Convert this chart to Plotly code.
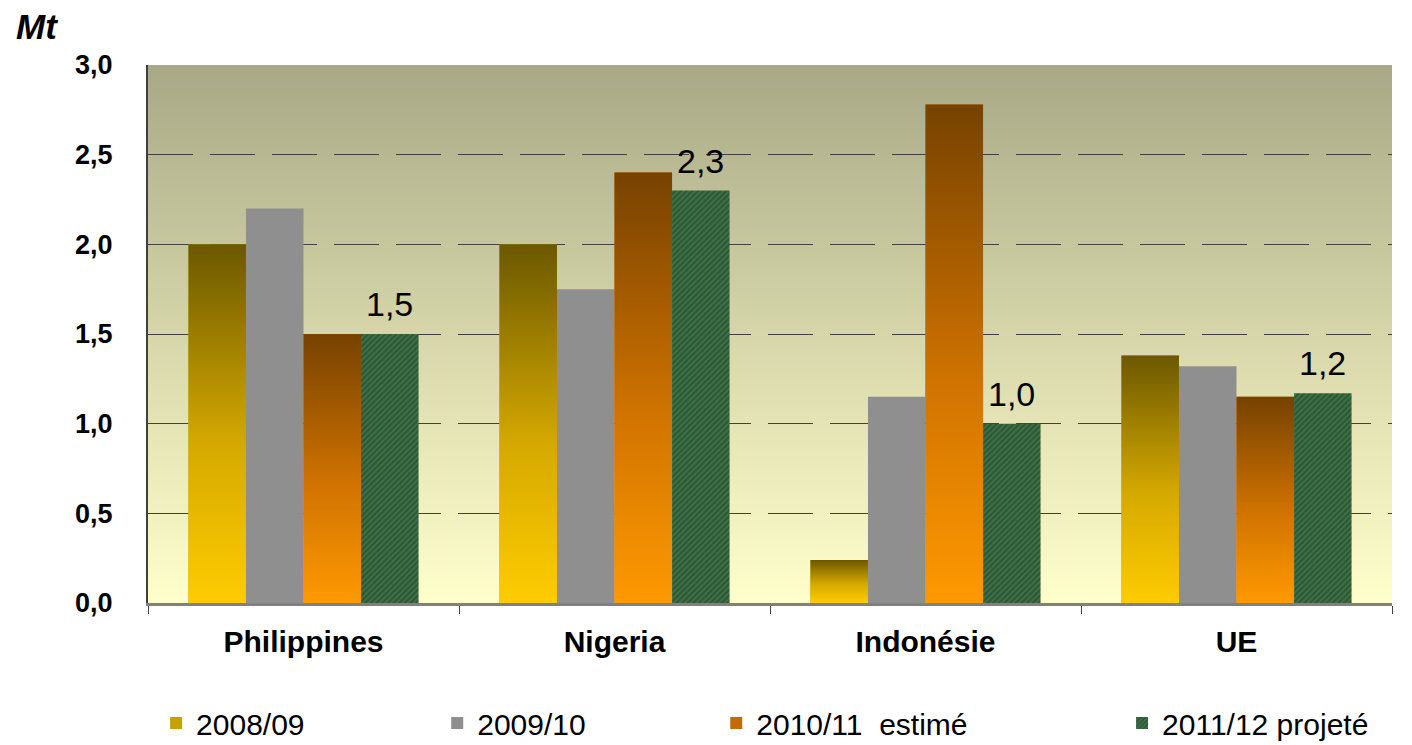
import base64
import plotly.graph_objects as go

# ---------------- data ----------------
categories = ["Philippines", "Nigeria", "Indonésie", "UE"]
series_names = ["2008/09", "2009/10", "2010/11  estimé", "2011/12 projeté"]
v_2008_09 = [2.0, 2.0, 0.24, 1.38]
v_2009_10 = [2.2, 1.75, 1.15, 1.32]
v_2010_11 = [1.5, 2.4, 2.78, 1.15]
v_2011_12 = [1.5, 2.3, 1.0, 1.17]
y_ticks = [0.0, 0.5, 1.0, 1.5, 2.0, 2.5, 3.0]
unit_label = "Mt"

# ---------------- styles ----------------
FONT = "Liberation Sans, Arial, sans-serif"
W = 0.185           # bar width (category units)
OFF0 = -0.37        # offset of first bar in group
grad_2008 = [[0.0, "#ffcc00"], [0.45, "#d4a800"], [1.0, "#6b5800"]]
grad_2010 = [[0.0, "#ff9900"], [0.45, "#cf7200"], [1.0, "#764200"]]

fig = go.Figure()

all_series = [v_2008_09, v_2009_10, v_2010_11, v_2011_12]
bar_styles = [
    dict(color="#c9a000"),
    dict(color="#8f8f8f"),
    dict(color="#c46a00"),
    dict(color="#2f5e37",
         pattern=dict(shape="/", size=4, solidity=0.35,
                      fgcolor="#5f9168", bgcolor="#2c5a34")),
]
legend_ids = ["legend", "legend2", "legend3", "legend4"]

for k, (name, vals, st) in enumerate(zip(series_names, all_series, bar_styles)):
    fig.add_trace(go.Bar(
        x=categories, y=vals, name=name,
        width=W, offset=OFF0 + k * W,
        marker=dict(line=dict(width=0), **st),
        legend=legend_ids[k],
        hovertemplate="%{x}: %{y}<extra>" + name + "</extra>",
    ))

# gradient overlays for the two gradient series (same geometry as the bars)
for k, vals, cs in [(0, v_2008_09, grad_2008), (2, v_2010_11, grad_2010)]:
    for i, v in enumerate(vals):
        x0 = i + OFF0 + k * W
        x1 = x0 + W
        fig.add_trace(go.Scatter(
            x=[x0, x1, x1, x0, x0], y=[0, 0, v, v, 0],
            xaxis="x2", mode="none", fill="toself",
            fillgradient=dict(type="vertical", colorscale=cs, start=0, stop=v),
            hoverinfo="skip", showlegend=False,
        ))

# value labels above the 2011/12 bars
for i, v in enumerate(v_2011_12):
    fig.add_annotation(
        x=i + OFF0 + 3 * W + W / 2, y=v, xref="x2", yref="y",
        text=f"{v:.1f}".replace(".", ","), showarrow=False,
        yshift=30, yanchor="middle",
        font=dict(family=FONT, size=34, color="#000000"),
    )

# unit label
fig.add_annotation(
    x=-0.108, y=1.072, xref="paper", yref="paper", xanchor="left", yanchor="middle",
    text="<b><i>" + unit_label + "</i></b>", showarrow=False,
    font=dict(family=FONT, size=35, color="#000000"),
)

# background gradient of the plot area
svg = ("<svg xmlns='http://www.w3.org/2000/svg' width='100' height='100' preserveAspectRatio='none'>"
       "<defs><linearGradient id='g' x1='0' y1='0' x2='0' y2='1'>"
       "<stop offset='0' stop-color='#a8a886'/>"
       "<stop offset='0.5' stop-color='#d6d6aa'/>"
       "<stop offset='1' stop-color='#ffffcc'/>"
       "</linearGradient></defs><rect width='100' height='100' fill='url(#g)'/></svg>")
src = "data:image/svg+xml;base64," + base64.b64encode(svg.encode()).decode()
fig.add_layout_image(dict(source=src, xref="paper", yref="paper", x=0, y=1,
                          sizex=1, sizey=1, xanchor="left", yanchor="top",
                          sizing="stretch", layer="below"))

legend_common = dict(orientation="h", yanchor="middle", y=-0.223, xanchor="left",
                     bgcolor="rgba(0,0,0,0)",
                     font=dict(family=FONT, size=30, color="#000000"))
legend_x = [0.0065, 0.2325, 0.4568, 0.7830]

fig.update_layout(
    width=1404, height=737,
    margin=dict(l=140, r=20, t=57, b=142, autoexpand=False),
    paper_bgcolor="#ffffff", plot_bgcolor="rgba(0,0,0,0)",
    separators=", ",
    barmode="overlay",
    showlegend=True,
    legend=dict(x=legend_x[0], **legend_common),
    legend2=dict(x=legend_x[1], **legend_common),
    legend3=dict(x=legend_x[2], **legend_common),
    legend4=dict(x=legend_x[3], **legend_common),
    xaxis=dict(
        type="category", range=[-0.5, 3.5],
        showline=True, linecolor="#808080", linewidth=3,
        ticks="outside", tickson="boundaries", ticklen=8, tickcolor="#404040", tickwidth=1,
        showgrid=False,
        tickfont=dict(family=FONT, size=30, color="#000000", weight="bold"),
        ticklabelstandoff=10,
    ),
    xaxis2=dict(overlaying="x", range=[-0.5, 3.5], visible=False),
    yaxis=dict(
        range=[0, 3], tickvals=y_ticks, tickformat=".1f",
        showline=True, linecolor="#404040", linewidth=2,
        ticks="", ticklabelstandoff=28,
        showgrid=True, gridcolor="#404040", gridwidth=1, griddash="45px,17px",
        zeroline=False,
        tickfont=dict(family=FONT, size=27, color="#000000", weight="bold"),
    ),
)

fig.write_html("out.html")
